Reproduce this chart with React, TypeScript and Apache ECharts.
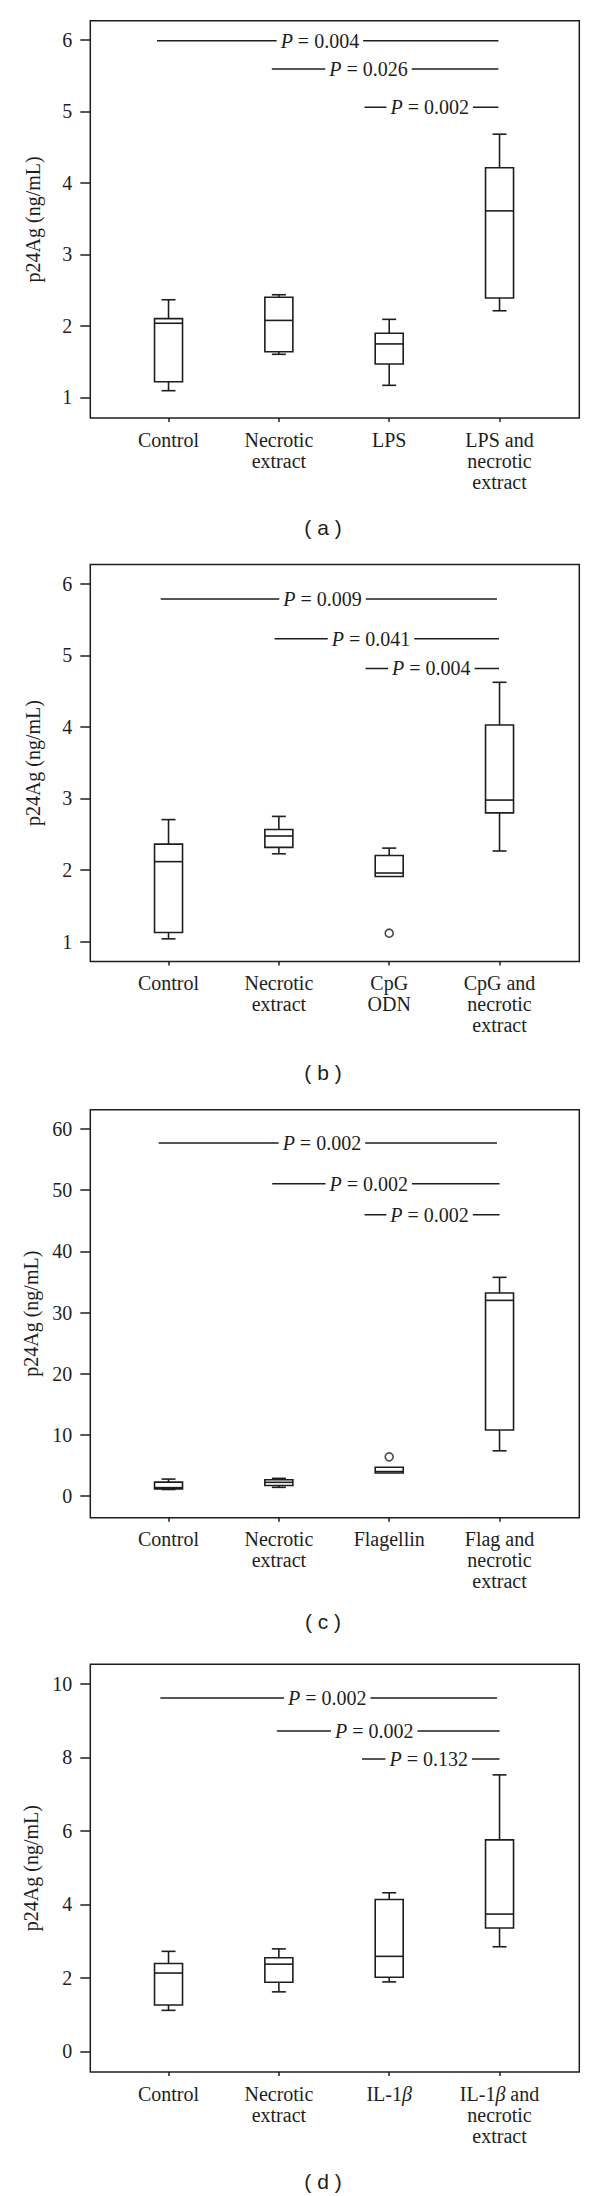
import React, { useEffect, useRef } from 'react';
import * as echarts from 'echarts';

// ---------- data ----------
const categoriesA = ['Control', 'Necrotic\nextract', 'LPS', 'LPS and\nnecrotic\nextract'];
const categoriesB = ['Control', 'Necrotic\nextract', 'CpG\nODN', 'CpG and\nnecrotic\nextract'];
const categoriesC = ['Control', 'Necrotic\nextract', 'Flagellin', 'Flag and\nnecrotic\nextract'];
const categoriesD = ['Control', 'Necrotic\nextract', 'IL-1β', 'IL-1β and\nnecrotic\nextract'];

// [min, Q1, median, Q3, max]
const boxesA = [
  [1.095, 1.219, 2.038, 2.103, 2.367],
  [1.604, 1.639, 2.078, 2.402, 2.437],
  [1.17, 1.469, 1.749, 1.898, 2.093],
  [2.213, 2.392, 3.61, 4.214, 4.683],
];
const boxesB = [
  [1.04, 1.129, 2.118, 2.362, 2.705],
  [2.228, 2.317, 2.476, 2.566, 2.75],
  [1.91, 1.91, 1.959, 2.203, 2.307],
  [2.267, 2.799, 2.978, 4.027, 4.623],
];
const boxesC = [
  [1.1, 1.2, 1.4, 2.3, 2.8],
  [1.45, 1.74, 2.27, 2.68, 2.92],
  [3.79, 3.79, 4.03, 4.73, 4.73],
  [7.42, 10.82, 32.0, 33.19, 35.76],
];
const boxesD = [
  [1.12, 1.266, 2.135, 2.396, 2.725],
  [1.623, 1.884, 2.377, 2.551, 2.792],
  [1.894, 2.02, 2.589, 4.135, 4.319],
  [2.85, 3.362, 3.739, 5.758, 7.527],
];

// outliers: [group position, value]
const outliersA: number[][] = [];
const outliersB = [[3, 1.119]];
const outliersC = [[3, 6.43]];
const outliersD: number[][] = [];

// y ticks
const ticksA = [1, 2, 3, 4, 5, 6];
const ticksB = [1, 2, 3, 4, 5, 6];
const ticksC = [0, 10, 20, 30, 40, 50, 60];
const ticksD = [0, 2, 4, 6, 8, 10];

// significance brackets: p labels, level (y), start group, end group, label centre (group units)
const pLabelsA = ['0.004', '0.026', '0.002'];
const pLevelA = [5.99, 5.594, 5.06];
const pStartA = [0.896, 1.936, 2.776];
const pEndA = [3.99, 3.99, 3.99];
const pTextA = [2.372, 2.812, 3.367];

const pLabelsB = ['0.009', '0.041', '0.004'];
const pLevelB = [5.786, 5.23, 4.817];
const pStartB = [0.929, 1.961, 2.786];
const pEndB = [3.977, 3.995, 3.995];
const pTextB = [2.396, 2.835, 3.382];

const pLabelsC = ['0.002', '0.002', '0.002'];
const pLevelC = [57.7, 51.04, 46.0];
const pStartC = [0.911, 1.94, 2.777];
const pEndC = [3.977, 4.0, 4.0];
const pTextC = [2.39, 2.815, 3.366];

const pLabelsD = ['0.002', '0.002', '0.132'];
const pLevelD = [9.62, 8.72, 7.96];
const pStartD = [0.926, 1.982, 2.754];
const pEndD = [3.977, 4.0, 4.0];
const pTextD = [2.438, 2.864, 3.358];

const captions = ['( a )', '( b )', '( c )', '( d )'];
const yTitle = 'p24Ag (ng/mL)';

// ---------- styling / layout ----------
const INK = '#1e1e1e';
const SERIF = '"Liberation Serif", "Times New Roman", serif';
const SANS = '"Liberation Sans", Arial, sans-serif';
const FS = 20;

const panels = [
  { cats: categoriesA, boxes: boxesA, outl: outliersA, ticks: ticksA, yMin: 0.713, yMax: 6.27,
    p: [pLabelsA, pLevelA, pStartA, pEndA, pTextA], top: 20.7, height: 397.3, capY: 527.5 },
  { cats: categoriesB, boxes: boxesB, outl: outliersB, ticks: ticksB, yMin: 0.722, yMax: 6.268,
    p: [pLabelsB, pLevelB, pStartB, pEndB, pTextB], top: 564.5, height: 397.1, capY: 1072 },
  { cats: categoriesC, boxes: boxesC, outl: outliersC, ticks: ticksC, yMin: -3.51, yMax: 63.15,
    p: [pLabelsC, pLevelC, pStartC, pEndC, pTextC], top: 1109.7, height: 408, capY: 1621.5 },
  { cats: categoriesD, boxes: boxesD, outl: outliersD, ticks: ticksD, yMin: -0.558, yMax: 10.536,
    p: [pLabelsD, pLevelD, pStartD, pEndD, pTextD], top: 1664.3, height: 407.7, capY: 2181.5 },
];

const GRID_LEFT = 90.3;
const GRID_WIDTH = 489;
const X_MIN = 0.291;
const X_MAX = 4.723;
const POS = [1, 2, 3, 4];

function buildOption() {
  const grid: any[] = [];
  const xAxis: any[] = [];
  const yAxis: any[] = [];
  const series: any[] = [];

  panels.forEach((pn, i) => {
    grid.push({
      left: GRID_LEFT, top: pn.top, width: GRID_WIDTH, height: pn.height,
      show: true, borderColor: INK, borderWidth: 1.5, backgroundColor: 'transparent',
      containLabel: false, outerBoundsMode: 'none',
    });
    xAxis.push({
      type: 'value', gridIndex: i, min: X_MIN, max: X_MAX,
      axisLine: { show: false, onZero: false },
      splitLine: { show: false },
      axisTick: { show: true, length: 4, inside: false, customValues: POS, lineStyle: { color: INK, width: 1.5 } },
      axisLabel: {
        show: true, customValues: POS, margin: 11, color: INK,
        fontFamily: SERIF, fontSize: FS, lineHeight: 21, align: 'center',
        formatter: (v: number) => {
          const s = pn.cats[Math.round(v) - 1] || '';
          return s.replace(/β/g, '{b|β}');
        },
        rich: { b: { fontStyle: 'italic', fontFamily: SERIF, fontSize: FS, color: INK, lineHeight: 21 } },
      },
    });
    yAxis.push({
      type: 'value', gridIndex: i, min: pn.yMin, max: pn.yMax,
      name: yTitle, nameLocation: 'middle', nameRotate: 90, nameGap: 47,
      nameTextStyle: { fontFamily: SERIF, fontSize: FS, color: INK },
      axisLine: { show: false, onZero: false },
      splitLine: { show: false },
      axisTick: { show: true, length: 10, inside: false, customValues: pn.ticks, lineStyle: { color: INK, width: 1.5 } },
      axisLabel: { show: true, customValues: pn.ticks, margin: 18, color: INK, fontFamily: SERIF, fontSize: FS },
    });

    const boxData = pn.boxes.map((b, k) => [POS[k], ...b]);
    series.push({
      type: 'custom', xAxisIndex: i, yAxisIndex: i, silent: true,
      dimensions: ['x', 'min', 'q1', 'med', 'q3', 'max'],
      encode: { x: 0, y: [1, 2, 3, 4, 5] },
      data: boxData,
      renderItem: (params: any, api: any) => {
        const x = api.value(0);
        const pMin = api.coord([x, api.value(1)]);
        const pQ1 = api.coord([x, api.value(2)]);
        const pMed = api.coord([x, api.value(3)]);
        const pQ3 = api.coord([x, api.value(4)]);
        const pMax = api.coord([x, api.value(5)]);
        const cx = pMed[0];
        const bw = 28;
        const cw = 14;
        const st = { stroke: INK, lineWidth: 1.6, fill: 'none' };
        const children: any[] = [];
        if (Math.abs(pMax[1] - pQ3[1]) > 0.5) {
          children.push({ type: 'line', shape: { x1: cx, y1: pMax[1], x2: cx, y2: pQ3[1] }, style: st });
          children.push({ type: 'line', shape: { x1: cx - cw / 2, y1: pMax[1], x2: cx + cw / 2, y2: pMax[1] }, style: st });
        }
        if (Math.abs(pMin[1] - pQ1[1]) > 0.5) {
          children.push({ type: 'line', shape: { x1: cx, y1: pQ1[1], x2: cx, y2: pMin[1] }, style: st });
          children.push({ type: 'line', shape: { x1: cx - cw / 2, y1: pMin[1], x2: cx + cw / 2, y2: pMin[1] }, style: st });
        }
        children.push({ type: 'rect', shape: { x: cx - bw / 2, y: pQ3[1], width: bw, height: pQ1[1] - pQ3[1] }, style: { stroke: INK, lineWidth: 1.6, fill: '#fff' } });
        children.push({ type: 'line', shape: { x1: cx - bw / 2, y1: pMed[1], x2: cx + bw / 2, y2: pMed[1] }, style: st });
        return { type: 'group', children };
      },
    });

    if (pn.outl.length) {
      series.push({
        type: 'scatter', xAxisIndex: i, yAxisIndex: i, silent: true,
        symbol: 'circle', symbolSize: 8,
        itemStyle: { color: '#fff', borderColor: INK, borderWidth: 1.6 },
        data: pn.outl,
      });
    }

    const [labels, levels, starts, ends, texts] = pn.p as any[];
    const brData = labels.map((_: string, k: number) => [starts[k], ends[k], levels[k], texts[k]]);
    series.push({
      type: 'custom', xAxisIndex: i, yAxisIndex: i, silent: true,
      dimensions: ['x1', 'x2', 'y', 'tx'],
      encode: { x: [0, 1, 3], y: 2 },
      data: brData,
      z: 5,
      renderItem: (params: any, api: any) => {
        const y = api.value(2);
        const a = api.coord([api.value(0), y]);
        const b = api.coord([api.value(1), y]);
        const t = api.coord([api.value(3), y]);
        const label = labels[params.dataIndex];
        return {
          type: 'group',
          children: [
            { type: 'line', shape: { x1: a[0], y1: a[1], x2: b[0], y2: b[1] }, style: { stroke: INK, lineWidth: 1.5 } },
            {
              type: 'text', x: t[0], y: t[1],
              style: {
                text: `{i|P} = ${label}`,
                fontFamily: SERIF, fontSize: FS, fill: INK,
                align: 'center', verticalAlign: 'middle',
                backgroundColor: '#fff', padding: [0, 4],
                rich: { i: { fontStyle: 'italic', fontFamily: SERIF, fontSize: FS, fill: INK } },
              },
            },
          ],
        };
      },
    });
  });

  const graphic = panels.map((pn, i) => ({
    type: 'text', x: 323, y: pn.capY, silent: true,
    style: {
      text: captions[i], fontFamily: SANS, fontSize: 21, fill: INK,
      align: 'center', verticalAlign: 'middle', textAlign: 'center', textVerticalAlign: 'middle',
    },
  }));

  return {
    animation: false,
    backgroundColor: '#fff',
    grid, xAxis, yAxis, series, graphic,
  };
}

export default function App() {
  const ref = useRef<HTMLDivElement>(null);
  useEffect(() => {
    if (!ref.current) return;
    const chart = echarts.init(ref.current, undefined, { renderer: 'svg' });
    chart.setOption(buildOption() as any);
    return () => chart.dispose();
  }, []);
  return (
    <div
      ref={ref}
      style={{ position: 'absolute', left: 0, top: 0, width: 600, height: 2196, background: '#fff' }}
    />
  );
}
